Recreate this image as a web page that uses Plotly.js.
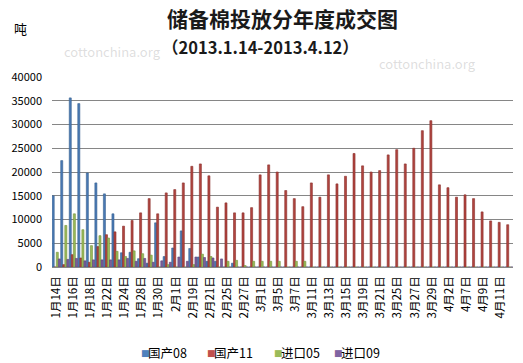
<!DOCTYPE html>
<html>
<head>
<meta charset="utf-8">
<script src="https://cdn.plot.ly/plotly-3.0.1.min.js"></script>
<style>html,body{margin:0;padding:0;background:#fff;}#chart{width:523px;height:363px;}</style>
</head>
<body>
<div id="chart"></div>
<script>
const dates = ["1月14日","1月15日","1月16日","1月17日","1月18日","1月21日","1月22日","1月23日","1月24日","1月25日",
"1月28日","1月29日","1月30日","1月31日","2月1日","2月18日","2月19日","2月20日","2月21日","2月22日",
"2月25日","2月26日","2月27日","2月28日","3月1日","3月4日","3月5日","3月6日","3月7日","3月8日",
"3月11日","3月12日","3月13日","3月14日","3月15日","3月18日","3月19日","3月20日","3月21日","3月22日",
"3月25日","3月26日","3月27日","3月28日","3月29日","4月1日","4月2日","4月3日","4月7日","4月8日",
"4月9日","4月10日","4月11日","4月12日"];

const guochan08 = [15000,22400,35600,34400,19800,17700,15400,11200,3000,3100,
1750,800,9300,2200,4000,7600,3900,2100,1200,1200,
0,800,0,0,0,0,0,0,0,0,
0,0,0,0,0,0,0,0,0,0,
0,0,0,0,0,0,0,0,0,0,
0,0,0,0];

const guochan11 = [0,500,2600,1900,1000,4300,6800,7400,8600,9800,
11400,14400,11200,15600,16300,17700,21200,21700,19200,12600,
13500,11400,11400,12500,19400,21500,20000,16100,14400,12700,
17700,14700,19400,17500,19100,23900,21300,20000,20300,23600,
24700,21700,25000,28700,30800,17300,16700,14700,15200,14400,
11600,9700,9400,8900];

const jinkou05 = [3100,8750,11200,7850,4500,6600,6100,3300,2200,3400,
2800,2500,0,500,0,0,500,2700,2200,0,
1200,1400,300,1200,1200,1200,1200,0,1200,1200,
0,0,0,0,0,0,0,0,0,0,
0,0,0,0,0,0,0,0,0,0,
0,0,0,0];

const jinkou09 = [1700,1600,1800,1300,1500,1500,1500,1500,1800,1200,
1800,1000,1300,1000,2100,1200,2100,2000,1900,1700,
0,0,0,0,0,0,0,0,0,0,
0,0,0,0,0,0,0,0,0,0,
0,0,0,0,0,0,0,0,0,0,
0,0,0,0];

const seriesNames = ["国产08","国产11","进口05","进口09"];
const yTicks = [0,5000,10000,15000,20000,25000,30000,35000,40000];
const xTickLabels = dates.filter((d,i)=>i%2===0);

const fills = ["#4A7AB5","#B0443F","#9BBB59","#7A5E9C"];
const edges = ["#35608F","#8A2F2C","#73903A","#5A4478"];
const legendColors = ["#4F81BD","#C0504D","#9BBB59","#8064A2"];
const vals = [guochan08, guochan11, jinkou05, jinkou09];

const traces = vals.map((v,k)=>({
  type:"bar", name: seriesNames[k], x: dates, y: v,
  marker:{color: fills[k], line:{color: edges[k], width:0.6}},
  hoverinfo:"x+y+name"
}));

const font = "'Noto Sans CJK SC', 'Noto Sans', sans-serif";
const L = 52, W = 461, B = 267.3, H = 190;
const px = x => (x - L) / W;
const py = y => (B - y) / H;

const legendX = [140, 206, 273, 333];
const legendAnns = [];
seriesNames.forEach((n,k)=>{
  legendAnns.push({text:"■", xref:"paper", yref:"paper", x:px(legendX[k]-1), y:py(353),
    xanchor:"left", yanchor:"middle", showarrow:false,
    font:{family:"'DejaVu Sans', sans-serif", size:9, color:legendColors[k]}});
  legendAnns.push({text:n, xref:"paper", yref:"paper", x:px(legendX[k]+6), y:py(353),
    xanchor:"left", yanchor:"middle", showarrow:false,
    font:{family:font, size:12.5, color:"#000"}});
});

const layout = {
  width:523, height:363,
  margin:{l:52, r:10, t:77, b:96},
  paper_bgcolor:"#ffffff", plot_bgcolor:"#ffffff",
  barmode:"group", bargap:0.04, bargroupgap:0,
  font:{family:font, size:11, color:"#000"},
  showlegend:false,
  xaxis:{type:"category", categoryorder:"array", categoryarray:dates,
    tickmode:"array", tickvals:xTickLabels, ticktext:xTickLabels, tickangle:-90,
    tickfont:{family:font, size:11.5, color:"#000"}, showgrid:false, zeroline:false,
    showline:false, ticks:"", ticklabelstandoff:6, automargin:false},
  yaxis:{range:[0,40000], tickmode:"array", tickvals:yTicks, ticktext:yTicks.map(String),
    showgrid:true, gridcolor:"#868686", gridwidth:1, zeroline:true, zerolinecolor:"#868686", zerolinewidth:1,
    showline:false, ticks:"", ticklabelstandoff:9, tickfont:{family:font, size:11, color:"#000"}, automargin:false},
  title:{text:"<b>储备棉投放分年度成交图</b>", x:0.5, xref:"paper", xanchor:"center",
    y:1-20/363, yref:"container", yanchor:"middle",
    font:{family:font, size:21, color:"#1a1a1a"}},
  annotations:[
    {text:"<b>（2013.1.14-2013.4.12）</b>", xref:"paper", yref:"paper",
     x:px(260), y:py(47), xanchor:"center", yanchor:"middle", showarrow:false,
     font:{family:font, size:16.5, color:"#1a1a1a"}},
    {text:"吨", xref:"paper", yref:"paper", x:px(20), y:py(29),
     xanchor:"center", yanchor:"middle", showarrow:false, font:{family:font, size:13, color:"#000"}},
    {text:"cottonchina.org", xref:"paper", yref:"paper", x:px(112), y:py(52),
     xanchor:"center", yanchor:"middle", showarrow:false, font:{family:font, size:13, color:"rgba(160,160,160,0.35)"}},
    {text:"cottonchina.org", xref:"paper", yref:"paper", x:px(427), y:py(64),
     xanchor:"center", yanchor:"middle", showarrow:false, font:{family:font, size:13, color:"rgba(160,160,160,0.35)"}}
  ].concat(legendAnns)
};

Plotly.newPlot("chart", traces, layout, {displayModeBar:false, staticPlot:true});
</script>
</body>
</html>
